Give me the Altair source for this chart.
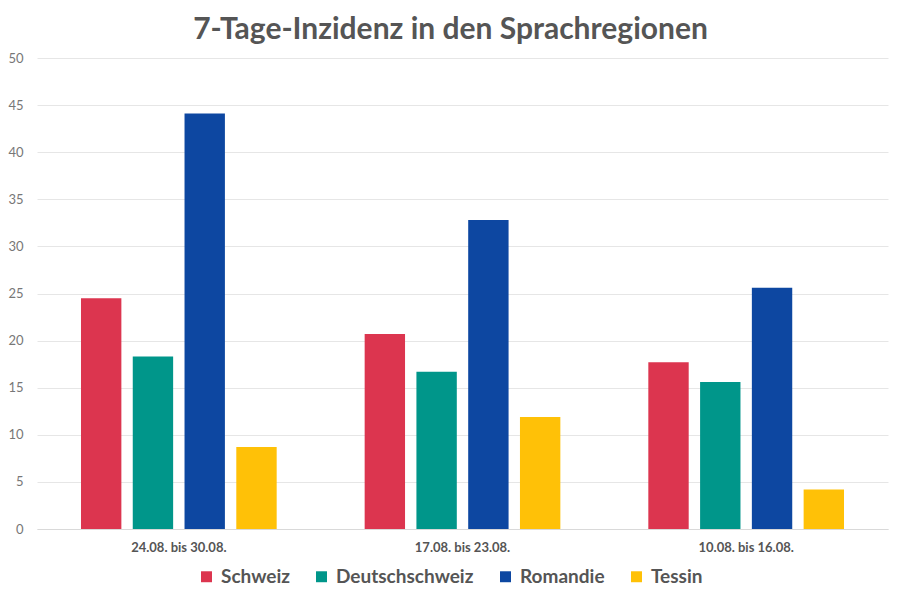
import altair as alt
import pandas as pd

weeks = ["24.08. bis 30.08.", "17.08. bis 23.08.", "10.08. bis 16.08."]
regions = ["Schweiz", "Deutschschweiz", "Romandie", "Tessin"]
schweiz = [24.5, 20.7, 17.7]
deutschschweiz = [18.3, 16.7, 15.6]
romandie = [44.1, 32.8, 25.6]
tessin = [8.7, 11.9, 4.2]
colors = ["#DC354F", "#00968A", "#0D47A1", "#FFC107"]

rows = []
for i, w in enumerate(weeks):
    for r, vals in zip(regions, [schweiz, deutschschweiz, romandie, tessin]):
        rows.append({"Woche": w, "Region": r, "Wert": vals[i]})
df = pd.DataFrame(rows)

chart = alt.Chart(df).mark_bar().encode(
    x=alt.X("Woche:N", sort=weeks, title=None,
            scale=alt.Scale(paddingInner=0.27, paddingOuter=0.135),
            axis=alt.Axis(labelAngle=0, labelFont="Lato", labelFontWeight="bold",
                          labelFontSize=13, labelColor="#555555", labelPadding=12,
                          ticks=False, domainColor="#D9D9D9", domainWidth=1)),
    xOffset=alt.XOffset("Region:N", sort=regions,
                        scale=alt.Scale(paddingInner=0.22, paddingOuter=0.11)),
    y=alt.Y("Wert:Q", title=None,
            scale=alt.Scale(domain=[0, 50]),
            axis=alt.Axis(values=list(range(0, 55, 5)), labelFont="Lato",
                          labelFontSize=13, labelColor="#777777", labelPadding=14,
                          ticks=False, domain=False, gridColor="#E6E6E6", gridWidth=1)),
    color=alt.Color("Region:N", sort=regions,
                    scale=alt.Scale(domain=regions, range=colors),
                    legend=alt.Legend(title=None, orient="none", direction="horizontal",
                                      legendX=160, legendY=509,
                                      symbolType="square", symbolSize=120,
                                      symbolStrokeWidth=0, symbolOpacity=1,
                                      labelFont="Lato", labelFontSize=19,
                                      labelFontWeight="bold", labelColor="#555555",
                                      columnPadding=22, labelOffset=5)),
).properties(
    width=851,
    height=471,
    title=alt.TitleParams("7-Tage-Inzidenz in den Sprachregionen", font="Lato",
                          fontSize=30, fontWeight="bold", color="#555555",
                          anchor="middle", offset=7, dx=-12),
    autosize=alt.AutoSizeParams(type="none"),
    padding={"left": 29, "top": 50, "right": 4, "bottom": 62},
).configure_view(stroke=None)

chart.save("out.html", embed_options={"renderer": "svg", "actions": False})
